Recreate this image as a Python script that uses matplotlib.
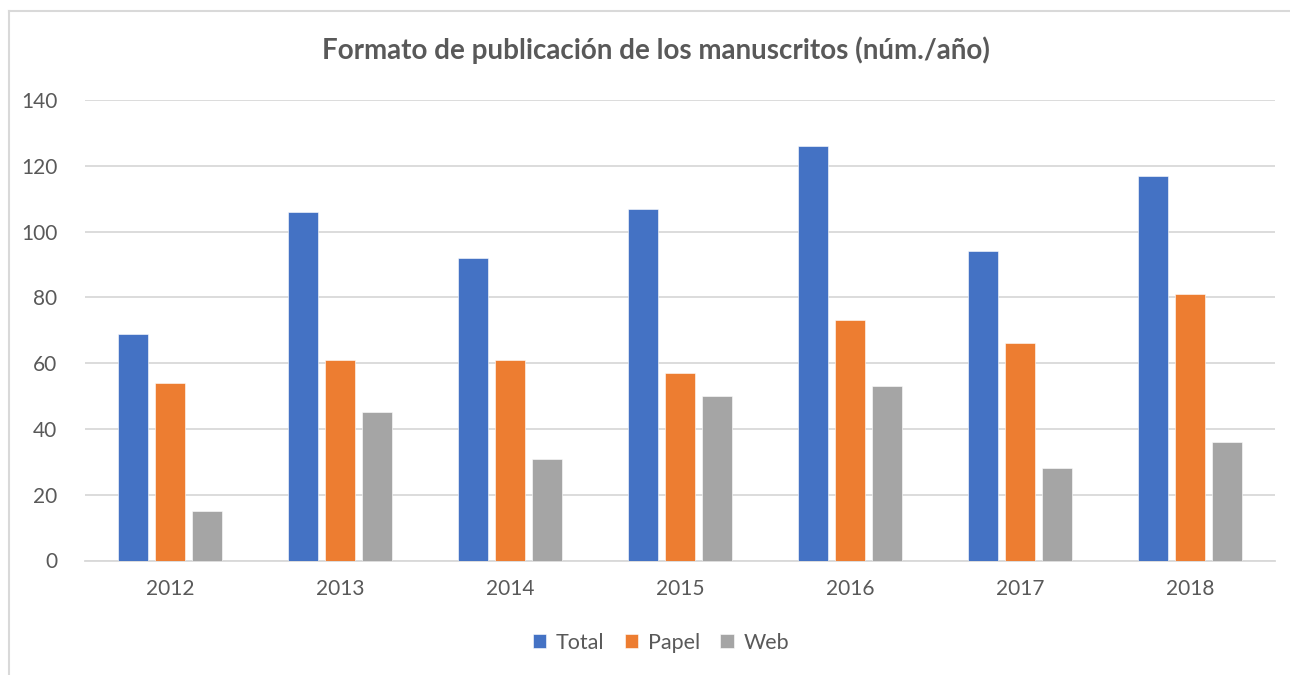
import numpy as np
import matplotlib.pyplot as plt
from matplotlib.lines import Line2D

plt.rcParams['font.family'] = ['Lato', 'DejaVu Sans']

years = ['2012', '2013', '2014', '2015', '2016', '2017', '2018']
total = [69, 106, 92, 107, 126, 94, 117]
papel = [54, 61, 61, 57, 73, 66, 81]
web = [15, 45, 31, 50, 53, 28, 36]

W, H = 1290, 675
fig = plt.figure(figsize=(W / 100, H / 100), dpi=100)
fig.patch.set_facecolor('white')

# outer chart border, only left and top edges are visible
bx, by = 9 / W, 1 - 11 / H
fig.lines.append(Line2D([bx, bx], [0, by], transform=fig.transFigure,
                        color='#d9d9d9', linewidth=1.5))
fig.lines.append(Line2D([bx, 1], [by, by], transform=fig.transFigure,
                        color='#d9d9d9', linewidth=1.5))

ax = fig.add_axes([85 / W, 1 - 560.5 / H, (1275 - 85) / W, (560.5 - 100) / H])

x = np.arange(len(years))
bw = 0.176
off = 0.22
cols = ['#4472C4', '#ED7D31', '#A5A5A5']
for i, (vals, name) in enumerate([(total, 'Total'), (papel, 'Papel'), (web, 'Web')]):
    ax.bar(x + (i - 1) * off, vals, bw, color=cols[i], label=name, zorder=3,
           edgecolor='white', linewidth=0.4)

ax.set_xlim(-0.5, len(years) - 0.5)
ax.set_ylim(0, 140)
ax.set_yticks(range(0, 141, 20))
ax.set_xticks(x)
ax.set_xticklabels(years)
ax.grid(axis='y', color='#d9d9d9', linewidth=1.3, zorder=0)
for s in ['top', 'right', 'left']:
    ax.spines[s].set_visible(False)
ax.spines['bottom'].set_color('#d9d9d9')
ax.spines['bottom'].set_linewidth(1.3)
ax.tick_params(axis='both', length=0, colors='#595959', labelsize=15)
ax.tick_params(axis='x', pad=13)
ax.tick_params(axis='y', pad=20)

fig.text(656 / W, 1 - 50 / H, 'Formato de publicación de los manuscritos (núm./año)',
         ha='center', va='center', fontsize=20, fontweight='bold', color='#595959')

leg = fig.legend(loc='center', bbox_to_anchor=(661 / W, 1 - 643 / H), ncol=3,
                 frameon=False, fontsize=15.5, handlelength=0.62, handleheight=0.62,
                 handletextpad=0.45, columnspacing=0.95)
for t in leg.get_texts():
    t.set_color('#595959')

fig.savefig('out.png', dpi=100)
